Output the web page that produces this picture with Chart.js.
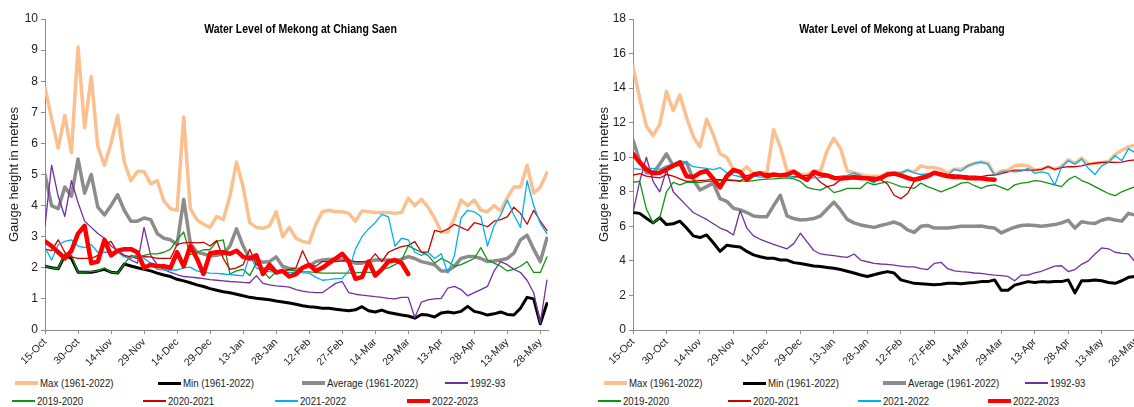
<!DOCTYPE html>
<html>
<head>
<meta charset="utf-8">
<script src="https://cdn.jsdelivr.net/npm/chart.js@4.4.1/dist/chart.umd.min.js"></script>
<style>
html, body { margin: 0; padding: 0; overflow: hidden; background: #fff; }
body { width: 1134px; height: 407px; position: relative; font-family: 'Liberation Sans', Arial, sans-serif; }
.box { position: absolute; top: 0; height: 372px; }
.item { position: absolute; display: flex; align-items: center; white-space: nowrap; height: 14px; font-size: 11.5px; color: #222; }
.item span { display: inline-block; transform: scaleX(0.84); transform-origin: left center; }
.sw { width: 23px; margin-right: 2px; }
</style>
</head>
<body>
<div class="box" style="left:0; width:567px"><canvas id="cs"></canvas></div>
<div class="box" style="left:590px; width:562px"><canvas id="lp"></canvas></div>
<div id="legend"></div>
<script>
// one value every 3 days, starting 15-Oct
const STEP = 3;
const X_MAX = 228.5;
const TICK_LABELS = ['15-Oct', '30-Oct', '14-Nov', '29-Nov', '14-Dec', '29-Dec', '13-Jan', '28-Jan',
  '12-Feb', '27-Feb', '14-Mar', '29-Mar', '13-Apr', '28-Apr', '13-May', '28-May'];
const SERIES_NAMES = ['Max (1961-2022)', 'Min (1961-2022)', 'Average (1961-2022)', '1992-93',
  '2019-2020', '2020-2021', '2021-2022', '2022-2023'];

// Chiang Saen
const csMax = [7.8, 6.8, 5.85, 6.9, 5.7, 9.1, 6.5, 8.15, 5.9, 5.3,
  6.0, 6.9, 5.4, 4.8, 5.1, 5.1, 4.7, 4.8, 4.15, 3.9,
  3.85, 6.85, 3.9, 3.55, 3.4, 3.3, 3.65, 3.55, 4.3, 5.4,
  4.6, 3.45, 3.3, 3.27, 3.35, 3.8, 3.0, 3.3, 2.95, 2.85,
  2.8, 3.4, 3.8, 3.85, 3.8, 3.8, 3.75, 3.5, 3.83, 3.8,
  3.78, 3.78, 3.78, 3.75, 3.78, 4.24, 4.0, 4.2, 3.95, 3.6,
  3.15, 3.15, 3.6, 4.18, 4.0, 4.18, 3.85, 3.8, 4.0, 3.83,
  4.25, 4.6, 4.6, 5.3, 4.4, 4.6, 5.05];
const csMin = [2.05, 2.0, 1.97, 2.4, 2.3, 1.86, 1.86, 1.86, 1.9, 1.95,
  1.86, 1.83, 2.12, 2.06, 2.0, 1.95, 1.9, 1.83, 1.77, 1.72,
  1.63, 1.58, 1.52, 1.45, 1.4, 1.33, 1.28, 1.23, 1.2, 1.15,
  1.1, 1.05, 1.02, 1.0, 0.97, 0.93, 0.9, 0.87, 0.83, 0.78,
  0.75, 0.73, 0.7, 0.7, 0.67, 0.64, 0.62, 0.65, 0.75, 0.62,
  0.58, 0.64, 0.56, 0.52, 0.48, 0.45, 0.38, 0.5, 0.48, 0.42,
  0.55, 0.58, 0.55, 0.6, 0.76, 0.6, 0.55, 0.48, 0.52, 0.58,
  0.5, 0.48, 0.7, 1.05, 1.0, 0.2, 0.85];
const csAvg = [5.0, 4.0, 3.9, 4.6, 4.3, 5.5, 4.4, 5.0, 3.95, 3.7,
  4.0, 4.35, 3.85, 3.5, 3.5, 3.6, 3.55, 3.1, 2.95, 2.9,
  2.75, 4.2, 2.8, 2.5, 2.45, 2.38, 2.4, 2.45, 2.7, 3.25,
  2.7, 2.3, 2.25, 2.18, 2.2, 2.35, 2.04, 1.98, 1.93, 2.0,
  2.05, 2.2, 2.25, 2.27, 2.28, 2.25, 2.22, 2.15, 2.15, 2.2,
  2.25, 2.25, 2.25, 2.22, 2.28, 2.36, 2.3, 2.2, 2.15, 2.1,
  1.9, 1.9, 2.05, 2.3, 2.36, 2.36, 2.3, 2.2, 2.22, 2.25,
  2.3, 2.47, 2.9, 3.05, 2.6, 2.2, 2.95];
const cs1992 = [3.35, 5.3, 4.3, 3.65, 4.8, 4.1, 3.5, 3.3, 3.1, 2.95,
  2.7, 2.55, 2.4, 2.25, 2.15, 3.3, 2.4, 2.1, 1.95, 1.85,
  1.78, 1.72, 1.7, 1.68, 1.65, 1.62, 1.6, 1.58, 1.56, 1.55,
  1.53, 1.52, 1.75, 1.5, 1.45, 1.42, 1.4, 1.38, 1.3, 1.25,
  1.22, 1.2, 1.2, 1.35, 1.5, 1.56, 1.2, 1.15, 1.12, 1.1,
  1.07, 1.05, 1.02, 1.0, 1.05, 1.05, 0.4, 0.9, 0.97, 1.0,
  1.02, 1.35, 1.4, 1.3, 1.1, 1.2, 1.3, 1.4, 1.9, 2.2,
  2.1, 1.95, 1.85, 1.6, 1.2, 0.22, 1.6];
const cs2019 = [2.05, 2.0, 1.97, 2.45, 2.4, 1.86, 1.86, 1.88, 1.9, 2.0,
  1.86, 1.83, 2.12, 2.4, 2.35, 2.4, 2.45, 2.45, 2.5, 2.6,
  2.9, 3.15, 2.42, 2.5, 2.58, 2.58, 2.85, 2.9, 1.8, 1.9,
  1.95, 1.75, 2.15, 1.9, 1.66, 1.88, 1.9, 1.93, 1.9, 1.88,
  1.87, 1.85, 1.83, 1.83, 1.83, 1.83, 1.83, 1.84, 1.85, 1.85,
  1.85, 1.95, 2.0, 2.1, 2.25, 2.7, 2.6, 2.5, 2.4, 2.15,
  2.3, 2.2, 2.05, 2.1, 2.2, 2.3, 2.65, 2.25, 2.15, 2.05,
  1.9, 1.95, 2.05, 2.2, 1.85, 1.85, 2.35];
const cs2020 = [2.6, 2.55, 2.9, 2.5, 2.35, 2.3, 2.3, 2.3, 2.4, 2.75,
  2.85, 2.5, 2.4, 2.35, 2.3, 2.36, 2.35, 2.3, 2.3, 2.3,
  2.75, 2.8, 2.82, 2.8, 2.82, 2.7, 2.88, 2.3, 1.95, 2.0,
  2.1, 2.6, 2.1, 2.0, 1.95, 1.85, 1.9, 1.95, 2.0, 2.55,
  2.1, 2.05, 2.2, 2.2, 2.2, 2.22, 2.25, 2.2, 2.2, 2.2,
  2.45, 2.2, 2.5, 2.6, 2.68, 2.72, 2.84, 2.5, 2.5, 3.2,
  3.15, 3.25, 3.4, 3.3, 3.2, 3.45, 3.4, 3.32, 3.5, 3.55,
  3.64, 3.95, 3.75, 3.4, 3.85, 3.5, 3.2];
const cs2021 = [2.65, 2.25, 2.75, 2.85, 2.9, 2.7, 2.65, 2.75, 2.5, 2.5,
  2.5, 2.5, 2.35, 2.3, 2.45, 2.3, 2.15, 1.95, 1.93, 1.93,
  1.93, 2.0, 2.02, 1.9, 1.85, 1.83, 1.82, 1.8, 1.78, 1.76,
  1.74, 2.4, 2.0, 1.9, 1.88, 1.87, 1.86, 1.85, 1.85, 1.84,
  1.83, 1.7, 1.6, 1.62, 1.65, 1.66, 1.9, 2.6, 3.0, 3.25,
  3.45, 3.72, 3.64, 2.7, 2.95, 2.9, 2.5, 2.4, 2.5, 2.3,
  2.45, 1.83, 2.4, 3.6, 3.85, 3.8, 3.65, 2.7, 3.35, 3.7,
  4.18, 3.7, 3.3, 4.8, 4.0, 3.43, 3.1];
const cs2022 = [2.85, 2.7, 2.5, 2.3, 2.55, 3.1, 3.35, 2.15, 2.2, 2.9,
  2.4, 2.55, 2.6, 2.6, 2.5, 2.0, 2.1, 2.05, 2.05, 2.0,
  2.5, 2.05, 2.7, 2.3, 1.8, 2.47, 2.5, 2.5, 2.45, 2.55,
  2.35, 2.3, 2.4, 1.8, 2.1, 1.85, 1.9, 1.72, 1.8, 2.0,
  2.1, 1.9, 2.0, 2.15, 2.3, 2.45, 2.2, 1.65, 1.7, 2.2,
  1.75, 1.95, 2.2, 2.25, 2.15, 1.8];

// Luang Prabang
const lpMax = [15.25, 13.4, 11.8, 11.25, 11.9, 13.8, 12.7, 13.6, 12.3, 11.2,
  10.6, 12.2, 11.3, 10.2, 10.0, 9.3, 9.1, 9.45, 9.0, 9.1,
  9.1, 11.6, 10.6, 9.2, 9.2, 9.0, 9.0, 9.2, 9.2, 10.4,
  11.1, 10.5, 9.2, 9.1, 9.0, 8.9, 8.9, 8.9, 9.1, 9.1,
  9.1, 9.25, 9.15, 9.5, 9.4, 9.4, 9.3, 9.1, 9.3, 9.3,
  9.5, 9.65, 9.72, 9.65, 9.0, 9.2, 9.25, 9.5, 9.55, 9.5,
  9.25, 9.3, 9.45, 9.3, 9.45, 9.85, 9.65, 9.95, 9.6, 9.65,
  9.7, 9.75, 10.15, 10.4, 10.6, 10.7, 10.7];
const lpMin = [6.8, 6.75, 6.47, 6.2, 6.5, 6.1, 6.15, 6.3, 5.9, 5.45,
  5.35, 5.5, 5.05, 4.55, 4.9, 4.85, 4.8, 4.55, 4.35, 4.24,
  4.15, 4.15, 4.05, 4.05, 3.9, 3.85, 3.78, 3.7, 3.67, 3.62,
  3.57, 3.5, 3.4, 3.3, 3.18, 3.1, 3.2, 3.3, 3.38, 3.3,
  2.9, 2.8, 2.7, 2.68, 2.65, 2.62, 2.65, 2.7, 2.7, 2.68,
  2.72, 2.75, 2.8, 2.8, 2.9, 2.3, 2.3, 2.6, 2.7, 2.8,
  2.75, 2.8, 2.78, 2.8, 2.8, 2.9, 2.15, 2.85, 2.85, 2.9,
  2.85, 2.75, 2.7, 2.85, 3.05, 3.1, 3.1];
const lpAvg = [11.0, 9.8, 9.1, 9.07, 9.6, 10.2, 9.5, 9.6, 9.7, 8.7,
  8.1, 8.3, 8.5, 7.6, 7.45, 7.05, 6.95, 6.8, 6.6, 6.55,
  6.56, 7.2, 7.8, 6.6, 6.45, 6.37, 6.4, 6.45, 6.6, 7.0,
  7.4, 6.95, 6.4, 6.2, 6.08, 6.0, 5.94, 6.05, 6.14, 6.25,
  6.1, 5.8, 5.65, 6.0, 6.05, 5.9, 5.9, 5.9, 5.95, 6.0,
  6.0, 6.0, 6.02, 5.95, 5.9, 5.62, 5.8, 5.95, 6.05, 6.08,
  6.05, 6.0, 6.05, 6.1, 6.2, 6.35, 5.9, 6.27, 6.2, 6.17,
  6.35, 6.45, 6.37, 6.3, 6.75, 6.65, 6.7];
const lp1992 = [6.8, 8.6, 10.0, 8.6, 8.0, 9.26, 8.0, 7.6, 7.2, 6.8,
  6.6, 6.4, 6.15, 5.9, 5.75, 5.5, 6.9, 5.9, 5.45, 5.25,
  5.1, 4.95, 4.82, 4.7, 5.0, 5.6, 5.1, 4.6, 4.4, 4.35,
  4.3, 4.25, 4.2, 4.4, 4.05, 3.95, 3.86, 3.82, 3.8, 3.75,
  3.7, 3.65, 3.65, 3.55, 3.5, 3.85, 3.92, 3.55, 3.42, 3.38,
  3.35, 3.3, 3.28, 3.22, 3.18, 3.15, 3.1, 2.85, 3.18, 3.18,
  3.3, 3.4, 3.55, 3.7, 3.72, 3.38, 3.5, 3.8, 4.0, 4.4,
  4.75, 4.7, 4.5, 4.44, 4.4, 3.95, 3.9];
const lp2019 = [8.55, 8.6, 7.0, 6.2, 6.5, 8.0, 8.55, 8.4, 8.55, 8.55,
  8.55, 8.6, 8.6, 8.65, 8.7, 8.68, 8.65, 8.6, 8.65, 8.7,
  8.73, 8.75, 8.78, 8.8, 8.75, 8.6, 8.25, 8.15, 8.1, 8.3,
  7.95, 8.05, 8.2, 8.2, 8.2, 8.55, 8.4, 8.5, 8.58, 8.45,
  8.3, 8.25, 8.2, 8.5, 8.3, 8.15, 8.0, 8.15, 8.3, 8.5,
  8.55, 8.35, 8.2, 8.35, 8.4, 8.25, 8.1, 8.4, 8.5, 8.55,
  8.65, 8.6, 8.5, 8.4, 8.3, 8.7, 8.9, 8.65, 8.5, 8.3,
  8.1, 7.9, 7.78, 8.0, 8.15, 8.3, 8.35];
const lp2020 = [8.97, 9.05, 8.9, 8.85, 8.8, 9.0, 8.9, 8.75, 8.6, 8.62,
  8.65, 8.68, 8.72, 8.7, 8.68, 8.65, 8.6, 8.95, 9.0, 9.05,
  9.07, 9.05, 8.95, 8.9, 8.87, 8.9, 8.95, 8.95, 8.55, 8.3,
  8.4, 8.7, 8.78, 8.75, 8.7, 8.85, 8.85, 8.7, 8.45, 7.8,
  7.6, 7.9, 8.6, 8.7, 8.9, 9.05, 9.05, 9.0, 8.97, 8.95,
  8.92, 8.9, 8.88, 8.95, 8.97, 9.05, 9.15, 9.25, 9.25, 9.25,
  9.25, 9.3, 9.45, 9.3, 9.4, 9.45, 9.45, 9.5, 9.6, 9.65,
  9.7, 9.72, 9.7, 9.72, 9.8, 9.85, 9.2];
const lp2021 = [9.36, 9.3, 9.35, 9.35, 9.3, 9.5, 9.6, 9.8, 9.7, 9.45,
  9.4, 9.35, 9.28, 9.4, 9.1, 8.97, 8.87, 8.77, 8.9, 8.85,
  8.85, 8.9, 8.97, 8.9, 8.85, 8.8, 8.75, 8.8, 8.82, 8.85,
  8.85, 8.9, 8.95, 9.1, 8.95, 8.7, 8.5, 8.85, 8.95, 9.0,
  9.1, 9.25, 9.1, 9.0, 9.05, 9.05, 9.0, 8.95, 9.3, 9.2,
  9.5, 9.65, 9.72, 9.6, 8.97, 9.16, 9.2, 9.15, 9.2, 9.35,
  9.07, 9.15, 9.07, 8.4, 9.45, 9.8, 9.6, 9.9, 9.36, 9.0,
  9.5, 9.7, 10.1, 9.8, 10.5, 10.25, 10.3];
const lp2022 = [10.2, 9.7, 9.3, 9.07, 9.1, 9.3, 9.5, 9.7, 8.9, 8.85,
  9.1, 9.2, 8.75, 8.25, 8.9, 9.26, 9.15, 8.7, 9.0, 9.07,
  8.9, 9.0, 8.95, 9.0, 9.16, 8.9, 8.7, 9.15, 9.0, 8.95,
  8.8, 8.77, 8.8, 8.85, 8.8, 8.78, 8.7, 8.8, 9.0, 9.05,
  8.95, 8.8, 8.7, 8.8, 8.9, 9.1, 9.0, 8.9, 8.85, 8.85,
  8.8, 8.78, 8.78, 8.72, 8.7];

// styles
const COLORS = ['#fac08f', '#000000', '#8c8c8c', '#7030a0', '#129412', '#cc0000', '#00b0f0', '#ff0000'];
const WIDTHS = [3.5, 3, 3.5, 1.3, 1.3, 1.3, 1.3, 4.5];
const AXIS = '#8c8c8c';
const TXT = '#222';
const SANS = "'Liberation Sans', Arial, sans-serif";

// chart title sits inside the plot, drawn condensed like the original narrow face
const titlePlugin = {
  id: 'plotTitle',
  afterDraw(chart, args, opts) {
    const { ctx, chartArea } = chart;
    const cx = (chartArea.left + chartArea.right) / 2 + opts.dx;
    ctx.save();
    ctx.translate(cx, opts.y);
    ctx.scale(0.84, 1);
    ctx.font = 'bold 12.5px ' + SANS;
    ctx.fillStyle = '#000';
    ctx.textAlign = 'center';
    ctx.textBaseline = 'middle';
    ctx.fillText(opts.text, 0, 0);
    ctx.restore();
  }
};

function toPoints(values) {
  return values.map((v, i) => ({ x: i * STEP, y: v }));
}

function makeChart(id, series, yMax, yStep, yWidth, padRight, title, titleDx) {
  const datasets = series.map((values, i) => ({
    label: SERIES_NAMES[i],
    data: toPoints(values),
    borderColor: COLORS[i],
    backgroundColor: COLORS[i],
    borderWidth: WIDTHS[i],
    pointRadius: 0,
    tension: 0,
    borderJoinStyle: 'round',
    borderCapStyle: 'round',
    order: series.length - 1 - i
  }));
  return new Chart(document.getElementById(id), {
    type: 'line',
    data: { datasets },
    options: {
      responsive: true,
      maintainAspectRatio: false,
      animation: false,
      layout: { padding: { left: 5, right: padRight, top: 19, bottom: 0 } },
      plugins: {
        legend: { display: false },
        tooltip: { enabled: false },
        plotTitle: { text: title, dx: titleDx, y: 30 }
      },
      scales: {
        x: {
          type: 'linear',
          min: 0,
          max: X_MAX,
          afterFit: s => { s.height = 42; },
          ticks: {
            stepSize: 15, autoSkip: false, includeBounds: false, maxTicksLimit: 30,
            maxRotation: 45, minRotation: 45, padding: 2,
            color: TXT, font: { family: SANS, size: 10.5 },
            callback: v => TICK_LABELS[Math.round(v / 15)] || ''
          },
          grid: { drawOnChartArea: false, tickLength: 4, color: AXIS },
          border: { color: AXIS, width: 1 }
        },
        y: {
          min: 0,
          max: yMax,
          afterFit: s => { s.width = yWidth; },
          ticks: { stepSize: yStep, padding: 3, color: TXT, font: { family: SANS, size: 12 } },
          grid: { drawOnChartArea: false, tickLength: 4, color: AXIS },
          border: { color: AXIS, width: 1 },
          title: {
            display: true, text: 'Gauge height in metres', color: TXT,
            font: { family: SANS, size: 13 }, padding: { top: 2, bottom: 0 }
          }
        }
      }
    },
    plugins: [titlePlugin]
  });
}

const csChart = makeChart('cs', [csMax, csMin, csAvg, cs1992, cs2019, cs2020, cs2021, cs2022],
  10, 1, 40, 19, 'Water Level of Mekong at Chiang Saen', 4);
const lpChart = makeChart('lp', [lpMax, lpMin, lpAvg, lp1992, lp2019, lp2020, lp2021, lp2022],
  18, 2, 38, 9, 'Water Level of Mekong at Luang Prabang', 14);

// legend text start positions (px from page left), two rows of four
const LEGEND_TEXT_X = {
  cs: [[40, 183, 327, 470], [37, 168, 300, 432]],
  lp: [[629, 768, 908, 1050], [623, 753, 883, 1013]]
};
const LEGEND_ROW_Y = [376, 394];

function buildLegend(chart, rows) {
  const host = document.getElementById('legend');
  chart.data.datasets.forEach((ds, i) => {
    const r = i < 4 ? 0 : 1;
    const item = document.createElement('div');
    item.className = 'item';
    item.style.left = (rows[r][i % 4] - 25) + 'px';
    item.style.top = LEGEND_ROW_Y[r] + 'px';
    const sw = document.createElement('div');
    sw.className = 'sw';
    sw.style.height = Math.max(1.5, ds.borderWidth) + 'px';
    sw.style.background = ds.borderColor;
    const txt = document.createElement('span');
    txt.textContent = ds.label;
    item.appendChild(sw);
    item.appendChild(txt);
    host.appendChild(item);
  });
}
buildLegend(csChart, LEGEND_TEXT_X.cs);
buildLegend(lpChart, LEGEND_TEXT_X.lp);
</script>
</body>
</html>
